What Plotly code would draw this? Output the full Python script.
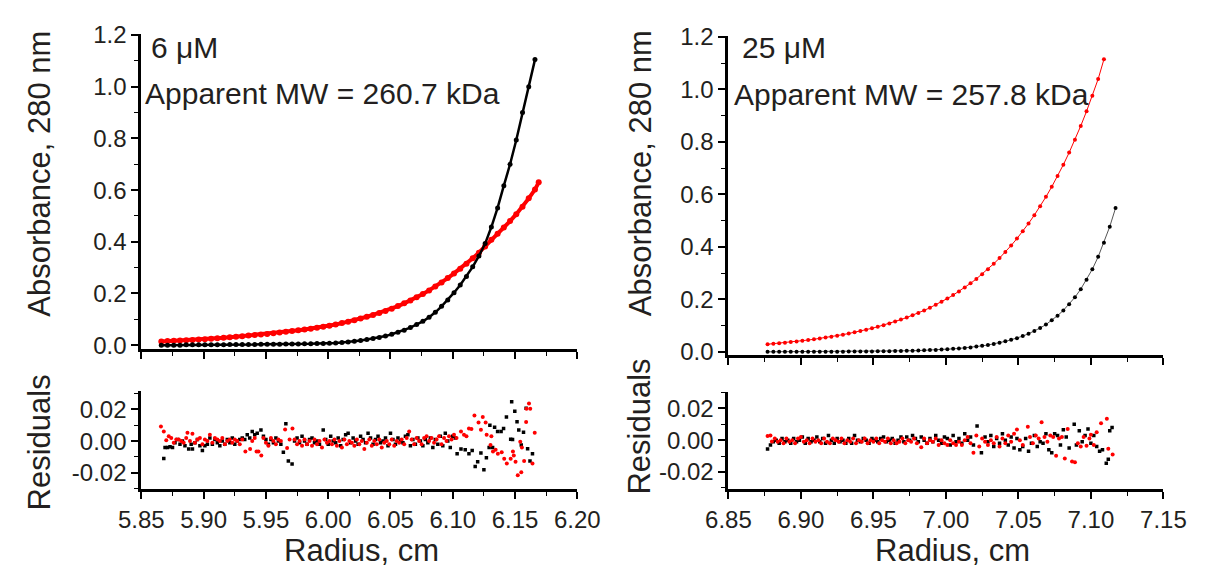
import plotly.graph_objects as go

# ---------------- data ----------------
# 6 uM panel, absorbance scans
R6_X = [5.866, 5.871, 5.876, 5.881, 5.886, 5.891, 5.896, 5.901, 5.906, 5.911,
        5.916, 5.921, 5.926, 5.931, 5.936, 5.941, 5.946, 5.951, 5.956, 5.961,
        5.966, 5.971, 5.976, 5.981, 5.986, 5.991, 5.996, 6.001, 6.006, 6.011,
        6.016, 6.021, 6.026, 6.031, 6.036, 6.041, 6.046, 6.051, 6.056, 6.061,
        6.066, 6.071, 6.076, 6.081, 6.086, 6.091, 6.096, 6.101, 6.106, 6.111,
        6.116, 6.121, 6.126, 6.131, 6.136, 6.141, 6.146, 6.151, 6.156, 6.161,
        6.166]
A6_BLACK = [0.000, 0.000, 0.000, 0.000, 0.001, 0.001, 0.001, 0.001, 0.001, 0.001,
            0.001, 0.002, 0.002, 0.002, 0.002, 0.002, 0.003, 0.003, 0.003, 0.003,
            0.004, 0.004, 0.004, 0.005, 0.005, 0.006, 0.006, 0.007, 0.008, 0.010,
            0.012, 0.015, 0.018, 0.022, 0.026, 0.030, 0.035, 0.042, 0.050, 0.058,
            0.068, 0.080, 0.092, 0.108, 0.127, 0.150, 0.175, 0.203, 0.233, 0.266,
            0.303, 0.345, 0.393, 0.457, 0.531, 0.617, 0.700, 0.794, 0.900, 1.000,
            1.105]
R6_X_RED = [5.866, 5.871, 5.876, 5.881, 5.886, 5.891, 5.896, 5.901, 5.906, 5.911,
            5.916, 5.921, 5.926, 5.931, 5.936, 5.941, 5.946, 5.951, 5.956, 5.961,
            5.966, 5.971, 5.976, 5.981, 5.986, 5.991, 5.996, 6.001, 6.006, 6.011,
            6.016, 6.021, 6.026, 6.031, 6.036, 6.041, 6.046, 6.051, 6.056, 6.061,
            6.066, 6.071, 6.076, 6.081, 6.086, 6.091, 6.096, 6.101, 6.106, 6.111,
            6.116, 6.121, 6.126, 6.131, 6.136, 6.141, 6.146, 6.151, 6.156, 6.161,
            6.166, 6.169]
A6_RED = [0.0145, 0.0155, 0.0166, 0.0177, 0.0189, 0.0203, 0.0217, 0.0232, 0.0248, 0.0265,
          0.0283, 0.0303, 0.0324, 0.0346, 0.0370, 0.0390, 0.0412, 0.0435, 0.0460, 0.0486,
          0.0513, 0.0542, 0.0572, 0.0604, 0.0638, 0.0674, 0.0712, 0.0752, 0.0801, 0.0853,
          0.0908, 0.0967, 0.1030, 0.1097, 0.1168, 0.1244, 0.1325, 0.1411, 0.1510, 0.1616,
          0.1729, 0.1850, 0.1980, 0.2118, 0.2266, 0.2425, 0.2595, 0.2777, 0.2959, 0.3153,
          0.3359, 0.3579, 0.3813, 0.4080, 0.4310, 0.4550, 0.4800, 0.5070, 0.5360, 0.5680,
          0.6020, 0.6300]

# 25 uM panel, absorbance scans
R25_X = [6.877, 6.881, 6.885, 6.889, 6.893, 6.897, 6.901, 6.905, 6.909, 6.913,
         6.917, 6.921, 6.925, 6.929, 6.933, 6.937, 6.941, 6.945, 6.949, 6.953,
         6.957, 6.961, 6.965, 6.969, 6.973, 6.977, 6.981, 6.985, 6.989, 6.993,
         6.997, 7.001, 7.005, 7.009, 7.013, 7.017, 7.021, 7.025, 7.029, 7.033,
         7.037, 7.041, 7.045, 7.049, 7.053, 7.057, 7.061, 7.065, 7.069, 7.073,
         7.077, 7.081, 7.085, 7.089, 7.093, 7.097, 7.101, 7.105, 7.109, 7.113,
         7.117]
A25_BLACK = [0.0001, 0.0002, 0.0002, 0.0002, 0.0002, 0.0003, 0.0003, 0.0004, 0.0004, 0.0005,
             0.0006, 0.0006, 0.0007, 0.0008, 0.0010, 0.0011, 0.0013, 0.0014, 0.0017, 0.0019,
             0.0022, 0.0025, 0.0029, 0.0033, 0.0038, 0.0043, 0.0050, 0.0057, 0.0066, 0.0075,
             0.0086, 0.0099, 0.0114, 0.0130, 0.0150, 0.0170, 0.0200, 0.0230, 0.0260, 0.0300,
             0.0350, 0.0400, 0.0460, 0.0520, 0.0600, 0.0690, 0.0790, 0.0910, 0.1040, 0.1200,
             0.1380, 0.1580, 0.1810, 0.2080, 0.2390, 0.2750, 0.3150, 0.3620, 0.4160, 0.4770,
             0.5480]
R25_X_RED = [6.877, 6.881, 6.885, 6.889, 6.893, 6.897, 6.901, 6.905, 6.909, 6.913,
             6.917, 6.921, 6.925, 6.929, 6.933, 6.937, 6.941, 6.945, 6.949, 6.953,
             6.957, 6.961, 6.965, 6.969, 6.973, 6.977, 6.981, 6.985, 6.989, 6.993,
             6.997, 7.001, 7.005, 7.009, 7.013, 7.017, 7.021, 7.025, 7.029, 7.033,
             7.037, 7.041, 7.045, 7.049, 7.053, 7.057, 7.061, 7.065, 7.069, 7.073,
             7.077, 7.081, 7.085, 7.089, 7.093, 7.097, 7.101, 7.105, 7.109]
A25_RED = [0.0290, 0.0309, 0.0329, 0.0350, 0.0373, 0.0397, 0.0423, 0.0450, 0.0479, 0.0510,
           0.0543, 0.0579, 0.0616, 0.0656, 0.0699, 0.0744, 0.0792, 0.0844, 0.0898, 0.0956,
           0.1018, 0.1084, 0.1155, 0.1229, 0.1309, 0.1394, 0.1484, 0.1580, 0.1683, 0.1792,
           0.1908, 0.2032, 0.2163, 0.2304, 0.2453, 0.2612, 0.2781, 0.2961, 0.3153, 0.3358,
           0.3575, 0.3807, 0.4054, 0.4316, 0.4596, 0.4894, 0.5211, 0.5549, 0.5908, 0.6291,
           0.6699, 0.7133, 0.7595, 0.8087, 0.8611, 0.9169, 0.9763, 1.0396, 1.1150]

# residuals, (radius, residual) pairs
RES6_BLACK = [
    (5.868, -0.011), (5.869, -0.004), (5.871, -0.004), (5.873, -0.0035), (5.875, -0.004),
    (5.877, -0.001), (5.879, 0.001), (5.881, -0.002), (5.883, 0.000), (5.885, -0.003),
    (5.888, -0.005), (5.890, -0.002), (5.891, -0.005), (5.893, -0.001), (5.895, 0.001),
    (5.897, -0.003), (5.899, -0.006), (5.901, -0.003), (5.903, -0.002), (5.905, 0.002),
    (5.907, -0.002), (5.909, 0.001), (5.911, -0.001), (5.913, -0.003), (5.915, 0.000),
    (5.917, -0.002), (5.919, 0.001), (5.921, -0.001), (5.923, 0.002), (5.925, -0.002),
    (5.927, 0.000), (5.929, 0.001), (5.931, 0.002), (5.933, 0.001), (5.935, 0.004),
    (5.937, 0.002), (5.939, 0.006), (5.941, 0.004), (5.943, 0.005), (5.946, 0.007),
    (5.948, 0.003), (5.950, 0.001), (5.952, -0.002), (5.954, 0.001), (5.956, -0.001),
    (5.958, 0.002), (5.960, 0.000), (5.962, -0.002), (5.964, -0.007), (5.966, 0.011),
    (5.968, -0.0125), (5.971, -0.0145), (5.973, 0.000), (5.975, 0.002), (5.977, -0.001),
    (5.979, 0.003), (5.981, 0.000), (5.983, -0.002), (5.985, 0.001), (5.987, 0.002),
    (5.989, -0.001), (5.991, 0.000), (5.993, -0.002), (5.996, 0.007), (5.998, 0.001),
    (6.000, -0.002), (6.002, 0.003), (6.004, 0.000), (6.006, -0.001), (6.008, 0.002),
    (6.010, -0.003), (6.012, 0.001), (6.014, 0.004), (6.016, 0.005), (6.018, -0.001),
    (6.020, 0.002), (6.022, 0.000), (6.024, -0.002), (6.026, 0.003), (6.028, 0.001),
    (6.030, -0.001), (6.032, 0.005), (6.034, 0.002), (6.036, -0.002), (6.038, 0.001),
    (6.040, 0.003), (6.042, -0.001), (6.044, 0.000), (6.046, 0.002), (6.048, -0.003),
    (6.050, 0.005), (6.052, 0.001), (6.054, -0.002), (6.056, 0.002), (6.058, 0.000),
    (6.060, -0.001), (6.062, 0.003), (6.064, 0.004), (6.066, -0.003), (6.068, 0.001),
    (6.070, -0.002), (6.072, 0.002), (6.074, 0.000), (6.076, -0.003), (6.078, 0.001),
    (6.080, -0.001), (6.082, 0.002), (6.084, -0.004), (6.086, 0.001), (6.088, -0.002),
    (6.090, 0.003), (6.092, -0.003), (6.094, 0.005), (6.096, 0.000), (6.098, -0.004),
    (6.100, 0.003), (6.102, 0.002), (6.1035, -0.008), (6.1066, -0.005), (6.110, -0.0055),
    (6.113, -0.008), (6.1156, -0.006), (6.118, -0.016), (6.120, -0.013), (6.1226, -0.0075),
    (6.125, -0.018), (6.127, -0.0105), (6.1292, -0.004), (6.1298, 0.010), (6.132, -0.004),
    (6.1336, 0.0087), (6.136, 0.006), (6.1388, 0.006), (6.1408, 0.008), (6.1431, 0.0153),
    (6.1465, 0.0012), (6.1473, 0.0249), (6.148, 0.001), (6.1498, 0.0188), (6.1516, 0.0123),
    (6.153, 0.007), (6.155, -0.0024), (6.1568, 0.0056), (6.1589, 0.0208), (6.1601, -0.0048),
    (6.162, -0.0125), (6.164, -0.0079),
]
RES6_RED = [
    (5.8657, 0.0093), (5.868, 0.006), (5.870, 0.0006), (5.872, 0.003), (5.874, 0.002),
    (5.876, -0.001), (5.878, 0.001), (5.880, 0.001), (5.882, 0.000), (5.884, -0.001),
    (5.886, 0.002), (5.887, 0.0053), (5.889, 0.000), (5.891, 0.0047), (5.893, -0.001),
    (5.895, 0.001), (5.897, 0.002), (5.899, -0.002), (5.901, 0.001), (5.903, 0.000),
    (5.905, 0.004), (5.907, -0.001), (5.909, 0.002), (5.911, 0.001), (5.913, 0.000),
    (5.915, 0.002), (5.917, -0.002), (5.919, 0.000), (5.921, 0.001), (5.923, -0.001),
    (5.925, 0.001), (5.927, 0.000), (5.929, -0.002), (5.931, 0.001), (5.9335, -0.0065),
    (5.9373, -0.005), (5.939, 0.000), (5.941, 0.002), (5.9425, -0.0065), (5.944, -0.0065),
    (5.9463, -0.009), (5.948, 0.002), (5.950, -0.001), (5.952, -0.003), (5.954, 0.002),
    (5.956, 0.000), (5.958, -0.002), (5.960, 0.001), (5.962, 0.000), (5.9654, 0.0073),
    (5.967, -0.0044), (5.969, 0.001), (5.9713, 0.008), (5.973, 0.001), (5.975, -0.002),
    (5.977, 0.000), (5.979, -0.003), (5.981, 0.001), (5.983, -0.002), (5.985, 0.000),
    (5.987, -0.003), (5.989, 0.001), (5.991, -0.002), (5.993, 0.000), (5.995, -0.004),
    (5.997, 0.001), (5.999, -0.001), (6.001, 0.000), (6.003, -0.002), (6.005, 0.001),
    (6.007, -0.003), (6.009, 0.000), (6.011, -0.004), (6.013, 0.001), (6.015, -0.002),
    (6.017, 0.000), (6.019, -0.001), (6.021, -0.003), (6.023, 0.001), (6.025, -0.002),
    (6.027, 0.000), (6.029, -0.005), (6.031, -0.001), (6.033, 0.001), (6.035, -0.003),
    (6.037, 0.000), (6.039, -0.002), (6.041, 0.001), (6.043, -0.004), (6.045, -0.001),
    (6.047, 0.000), (6.049, -0.002), (6.051, 0.001), (6.053, -0.003), (6.055, 0.000),
    (6.057, -0.001), (6.059, 0.001), (6.061, -0.002), (6.063, 0.002), (6.065, 0.006),
    (6.067, 0.001), (6.069, -0.002), (6.071, 0.002), (6.073, 0.000), (6.075, -0.002),
    (6.077, 0.002), (6.079, 0.003), (6.081, 0.000), (6.083, 0.002), (6.085, -0.001),
    (6.087, 0.001), (6.089, 0.003), (6.091, -0.002), (6.093, 0.002), (6.095, 0.000),
    (6.097, 0.003), (6.099, 0.001), (6.101, 0.004), (6.103, 0.002), (6.1066, 0.006),
    (6.109, 0.004), (6.111, 0.003), (6.113, 0.008), (6.115, 0.0077), (6.1174, 0.0162),
    (6.1207, 0.0117), (6.1226, 0.0071), (6.1241, 0.0152), (6.1264, 0.0117), (6.1272, 0.004),
    (6.1303, -0.0024), (6.131, 0.003), (6.1323, -0.0065), (6.1344, -0.0055), (6.1362, -0.0079),
    (6.1393, -0.0071), (6.1413, -0.0111), (6.1434, -0.0141), (6.1465, -0.0111), (6.1483, -0.0065),
    (6.149, -0.009), (6.1504, -0.013), (6.1522, -0.0216), (6.1542, -0.0004), (6.155, -0.0196),
    (6.1555, -0.004), (6.1573, -0.0125), (6.1589, 0.0121), (6.1592, 0.0204), (6.1612, 0.0238),
    (6.1622, 0.0204), (6.164, -0.0141), (6.1658, 0.0053),
]
RES25_BLACK = [
    (6.877, -0.0055), (6.879, -0.003), (6.881, -0.001), (6.883, 0.000), (6.885, -0.002),
    (6.887, 0.001), (6.889, -0.001), (6.891, 0.000), (6.893, -0.002), (6.895, 0.001),
    (6.897, -0.001), (6.899, 0.000), (6.901, 0.002), (6.903, -0.002), (6.905, 0.001),
    (6.907, -0.001), (6.909, 0.000), (6.911, 0.002), (6.913, -0.001), (6.915, 0.001),
    (6.917, -0.002), (6.919, 0.003), (6.921, 0.000), (6.923, -0.002), (6.925, 0.001),
    (6.927, -0.001), (6.929, 0.000), (6.931, -0.002), (6.933, 0.001), (6.935, -0.002),
    (6.937, 0.003), (6.939, 0.000), (6.941, -0.001), (6.943, 0.001), (6.945, 0.000),
    (6.947, -0.002), (6.949, 0.001), (6.951, 0.000), (6.953, -0.001), (6.955, 0.001),
    (6.957, 0.002), (6.959, -0.001), (6.961, 0.000), (6.963, 0.001), (6.965, -0.002),
    (6.967, 0.000), (6.969, 0.002), (6.971, -0.001), (6.973, 0.002), (6.975, 0.000),
    (6.977, 0.003), (6.979, 0.001), (6.981, -0.001), (6.983, 0.002), (6.985, 0.000),
    (6.987, -0.002), (6.989, 0.001), (6.991, -0.001), (6.993, 0.003), (6.995, 0.000),
    (6.997, -0.002), (6.999, 0.002), (7.001, 0.001), (7.003, -0.003), (7.005, 0.003),
    (7.007, -0.001), (7.009, 0.001), (7.011, -0.002), (7.013, 0.004), (7.015, 0.000),
    (7.017, 0.002), (7.019, -0.003), (7.0215, 0.009), (7.0245, -0.008), (7.027, 0.002),
    (7.029, -0.001), (7.031, 0.003), (7.033, -0.004), (7.035, 0.001), (7.037, -0.002),
    (7.039, 0.004), (7.041, 0.000), (7.043, -0.003), (7.045, 0.002), (7.047, -0.005),
    (7.049, 0.001), (7.051, -0.006), (7.053, -0.004), (7.055, 0.001), (7.057, -0.007),
    (7.059, -0.002), (7.061, 0.003), (7.063, -0.004), (7.065, -0.001), (7.067, -0.002),
    (7.069, 0.004), (7.071, -0.006), (7.073, -0.008), (7.075, 0.004), (7.077, 0.003),
    (7.079, -0.003), (7.081, 0.0065), (7.083, 0.002), (7.085, -0.005), (7.0885, 0.010),
    (7.090, -0.003), (7.092, 0.006), (7.094, -0.001), (7.096, 0.003), (7.098, 0.007),
    (7.100, -0.002), (7.102, 0.003), (7.104, -0.004), (7.106, -0.007), (7.108, -0.006),
    (7.1106, -0.0145), (7.112, -0.012), (7.113, 0.006), (7.1146, 0.008),
]
RES25_RED = [
    (6.877, 0.0026), (6.879, 0.003), (6.880, -0.0008), (6.882, 0.001), (6.884, -0.001),
    (6.886, 0.000), (6.888, -0.002), (6.890, 0.001), (6.892, -0.001), (6.894, 0.000),
    (6.896, -0.002), (6.898, 0.001), (6.900, 0.002), (6.902, -0.001), (6.904, 0.000),
    (6.906, -0.002), (6.908, 0.001), (6.910, -0.001), (6.912, 0.000), (6.914, -0.002),
    (6.916, 0.001), (6.918, -0.001), (6.920, -0.002), (6.922, 0.001), (6.924, 0.000),
    (6.926, -0.001), (6.928, 0.001), (6.930, -0.002), (6.932, 0.000), (6.934, -0.001),
    (6.936, 0.001), (6.938, -0.002), (6.940, 0.000), (6.942, -0.001), (6.944, 0.001),
    (6.946, -0.002), (6.948, 0.000), (6.950, -0.001), (6.952, 0.001), (6.954, -0.002),
    (6.956, 0.000), (6.958, -0.001), (6.960, 0.001), (6.962, -0.002), (6.964, 0.000),
    (6.966, -0.002), (6.968, -0.001), (6.970, 0.001), (6.972, -0.002), (6.974, 0.000),
    (6.976, -0.001), (6.978, 0.001), (6.980, -0.002), (6.983, -0.0044), (6.985, 0.001),
    (6.987, -0.002), (6.989, 0.000), (6.991, -0.001), (6.993, 0.001), (6.995, -0.003),
    (6.997, 0.000), (6.999, -0.002), (7.001, -0.003), (7.003, 0.000), (7.005, -0.002),
    (7.007, -0.003), (7.009, -0.001), (7.011, -0.003), (7.013, 0.000), (7.015, 0.002),
    (7.017, -0.002), (7.019, -0.008), (7.021, 0.003), (7.023, -0.004), (7.025, 0.001),
    (7.027, -0.001), (7.029, -0.003), (7.031, 0.000), (7.033, -0.002), (7.035, 0.002),
    (7.037, -0.004), (7.039, 0.001), (7.041, -0.002), (7.043, 0.003), (7.045, -0.001),
    (7.047, 0.004), (7.049, 0.0067), (7.051, 0.000), (7.053, -0.003), (7.0565, 0.0085),
    (7.058, 0.002), (7.060, -0.002), (7.062, 0.003), (7.064, 0.001), (7.066, 0.0113),
    (7.068, 0.002), (7.070, -0.001), (7.072, 0.003), (7.074, 0.002), (7.076, -0.0098),
    (7.078, 0.001), (7.080, 0.002), (7.082, -0.0115), (7.084, 0.007), (7.087, -0.0135),
    (7.089, -0.014), (7.091, -0.002), (7.093, -0.004), (7.095, 0.002), (7.097, -0.0036),
    (7.099, 0.001), (7.100, 0.0035), (7.102, -0.003), (7.104, 0.005), (7.107, 0.0107),
    (7.111, 0.0135), (7.112, -0.0054), (7.115, -0.009),
]

ABS_TICKS = [0.0, 0.2, 0.4, 0.6, 0.8, 1.0, 1.2]
ABS_TICKTEXT = ["0.0", "0.2", "0.4", "0.6", "0.8", "1.0", "1.2"]
RES_TICKS = [-0.02, 0.0, 0.02]
RES_TICKTEXT = ["-0.02", "0.00", "0.02"]
X6_TICKS = [5.85, 5.90, 5.95, 6.00, 6.05, 6.10, 6.15, 6.20]
X6_TICKTEXT = ["5.85", "5.90", "5.95", "6.00", "6.05", "6.10", "6.15", "6.20"]
X25_TICKS = [6.85, 6.90, 6.95, 7.00, 7.05, 7.10, 7.15]
X25_TICKTEXT = ["6.85", "6.90", "6.95", "7.00", "7.05", "7.10", "7.15"]

# ---------------- figure ----------------
W, H = 1222, 574
FONT = "Liberation Sans, Arial, Helvetica, sans-serif"
TXT = "#231f20"
RED = "#ff0000"
BLK = "#000000"

def px_x(p):
    return p / W

def px_y(p):
    return 1 - p / H

fig = go.Figure()

# top-left
fig.add_trace(go.Scatter(x=R6_X_RED, y=A6_RED, mode="lines+markers",
                         line=dict(color=RED, width=4), marker=dict(color=RED, size=6),
                         xaxis="x", yaxis="y"))
fig.add_trace(go.Scatter(x=R6_X, y=A6_BLACK, mode="lines+markers",
                         line=dict(color=BLK, width=2.5), marker=dict(color=BLK, size=5),
                         xaxis="x", yaxis="y"))
# bottom-left residuals
fig.add_trace(go.Scatter(x=[p[0] for p in RES6_BLACK], y=[p[1] for p in RES6_BLACK],
                         mode="markers", marker=dict(color=BLK, size=3.5, symbol="square"),
                         xaxis="x2", yaxis="y2"))
fig.add_trace(go.Scatter(x=[p[0] for p in RES6_RED], y=[p[1] for p in RES6_RED],
                         mode="markers", marker=dict(color=RED, size=4),
                         xaxis="x2", yaxis="y2"))
# top-right
fig.add_trace(go.Scatter(x=R25_X_RED, y=A25_RED, mode="lines+markers",
                         line=dict(color=RED, width=1), marker=dict(color=RED, size=4),
                         xaxis="x3", yaxis="y3"))
fig.add_trace(go.Scatter(x=R25_X, y=A25_BLACK, mode="lines+markers",
                         line=dict(color="#555555", width=1), marker=dict(color=BLK, size=4),
                         xaxis="x3", yaxis="y3"))
# bottom-right residuals
fig.add_trace(go.Scatter(x=[p[0] for p in RES25_BLACK], y=[p[1] for p in RES25_BLACK],
                         mode="markers", marker=dict(color=BLK, size=3.5, symbol="square"),
                         xaxis="x4", yaxis="y4"))
fig.add_trace(go.Scatter(x=[p[0] for p in RES25_RED], y=[p[1] for p in RES25_RED],
                         mode="markers", marker=dict(color=RED, size=4),
                         xaxis="x4", yaxis="y4"))

tickfont = dict(family=FONT, size=24, color=TXT)
common = dict(showgrid=False, zeroline=False, showline=True, linecolor=BLK, linewidth=3,
              ticks="outside", ticklen=7, tickwidth=1.5, tickcolor=BLK, tickfont=tickfont,
              mirror=False)

def xax(domain, rng, ticks, text, anchor, labels):
    d = dict(common)
    d.update(domain=domain, range=rng, anchor=anchor, tickmode="array", tickvals=ticks,
             ticktext=text, showticklabels=labels,
             minor=dict(ticks="outside", ticklen=4, tickwidth=1.2, tickcolor=BLK, dtick=0.025,
                        tick0=ticks[0], showgrid=False))
    return d

def yax(domain, rng, ticks, text, anchor, mdtick):
    d = dict(common)
    d.update(domain=domain, range=rng, anchor=anchor, tickmode="array", tickvals=ticks,
             ticktext=text,
             minor=dict(ticks="outside", ticklen=4, tickwidth=1.2, tickcolor=BLK, dtick=mdtick,
                        tick0=0, showgrid=False))
    return d

LX = [px_x(123), px_x(576)]
RX = [px_x(733), px_x(1185)]
fig.update_layout(
    xaxis=xax(LX, [5.85, 6.20], X6_TICKS, X6_TICKTEXT, "y", False),
    yaxis=yax([px_y(350), px_y(22)], [-0.0149, 1.2037], ABS_TICKS, ABS_TICKTEXT, "x", 0.1),
    xaxis2=xax(LX, [5.85, 6.20], X6_TICKS, X6_TICKTEXT, "y2", True),
    yaxis2=yax([px_y(496), px_y(394)], [-0.0303, 0.0315], RES_TICKS, RES_TICKTEXT, "x2", 0.01),
    xaxis3=xax(RX, [6.85, 7.15], X25_TICKS, X25_TICKTEXT, "y3", False),
    yaxis3=yax([px_y(356), px_y(24)], [-0.011, 1.2037], ABS_TICKS, ABS_TICKTEXT, "x3", 0.1),
    xaxis4=xax(RX, [6.85, 7.15], X25_TICKS, X25_TICKTEXT, "y4", True),
    yaxis4=yax([px_y(496), px_y(395)], [-0.0309, 0.0303], RES_TICKS, RES_TICKTEXT, "x4", 0.01),
)

ann_font = dict(family=FONT, size=30, color=TXT)
title_font = dict(family=FONT, size=31, color=TXT)
annotations = [
    dict(text="6 \u03bcM", x=px_x(132), y=px_y(36), xanchor="left", yanchor="middle", font=ann_font),
    dict(text="Apparent MW = 260.7 kDa", x=px_x(126), y=px_y(84), xanchor="left", yanchor="middle", font=ann_font),
    dict(text="25 \u03bcM", x=px_x(746), y=px_y(36), xanchor="left", yanchor="middle", font=ann_font),
    dict(text="Apparent MW = 257.8 kDa", x=px_x(738), y=px_y(85), xanchor="left", yanchor="middle", font=ann_font),
    dict(text="Absorbance, 280 nm", x=px_x(17), y=px_y(167), xanchor="center", yanchor="middle", textangle=-90, font=title_font),
    dict(text="Residuals", x=px_x(17), y=px_y(447), xanchor="center", yanchor="middle", textangle=-90, font=title_font),
    dict(text="Absorbance, 280 nm", x=px_x(641), y=px_y(167), xanchor="center", yanchor="middle", textangle=-90, font=title_font),
    dict(text="Residuals", x=px_x(641), y=px_y(431), xanchor="center", yanchor="middle", textangle=-90, font=title_font),
    dict(text="Radius, cm", x=px_x(352), y=px_y(560), xanchor="center", yanchor="middle", font=title_font),
    dict(text="Radius, cm", x=px_x(966), y=px_y(560), xanchor="center", yanchor="middle", font=title_font),
]
for a in annotations:
    a.update(xref="paper", yref="paper", showarrow=False, borderpad=0)

fig.update_layout(
    width=W, height=H, margin=dict(l=0, r=0, t=0, b=0),
    paper_bgcolor="white", plot_bgcolor="white", showlegend=False,
    annotations=annotations, font=dict(family=FONT, color=TXT),
)

fig.write_html("out.html", include_plotlyjs=True, config={"displayModeBar": False})
